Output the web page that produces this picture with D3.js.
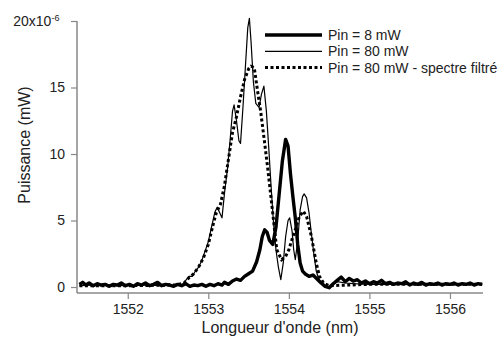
<!DOCTYPE html>
<html>
<head>
<meta charset="utf-8">
<script src="https://cdn.jsdelivr.net/npm/d3@7"></script>
<style>
  body { margin: 0; background: #fff; }
  svg { display: block; }
  text { font-family: "Liberation Sans", sans-serif; fill: #222; }
</style>
</head>
<body>
<svg id="chart" width="504" height="338"></svg>
<script>
// wavelength (nm) / power (x1e-6 mW)
let wl8 = [1551.40, 1551.44, 1551.48, 1551.52, 1551.57, 1551.62, 1551.67, 1551.72, 1551.77, 1551.82,
  1551.87, 1551.92, 1551.97, 1552.02, 1552.07, 1552.12, 1552.17, 1552.22, 1552.27, 1552.32,
  1552.37, 1552.42, 1552.47, 1552.52, 1552.57, 1552.62, 1552.67, 1552.72, 1552.77, 1552.82,
  1552.87, 1552.92, 1552.97, 1553.02, 1553.07, 1553.12, 1553.17, 1553.20,
  1553.25, 1553.30, 1553.35, 1553.40, 1553.45, 1553.50, 1553.55, 1553.60, 1553.64, 1553.67,
  1553.70, 1553.73, 1553.76, 1553.80, 1553.84, 1553.88, 1553.92, 1553.96, 1553.99, 1554.02,
  1554.05, 1554.08, 1554.11, 1554.14, 1554.17, 1554.20, 1554.25, 1554.30, 1554.35, 1554.40,
  1554.45, 1554.50, 1554.55, 1554.60, 1554.65, 1554.70, 1554.75, 1554.80, 1554.85, 1554.90,
  1554.95, 1555.00, 1555.05, 1555.10, 1555.15, 1555.20, 1555.25, 1555.30, 1555.35, 1555.40,
  1555.45, 1555.50, 1555.55, 1555.60, 1555.65, 1555.70, 1555.75, 1555.80, 1555.85, 1555.90,
  1555.95, 1556.00, 1556.05, 1556.10, 1556.15, 1556.20, 1556.25, 1556.30, 1556.35, 1556.40];
let p8 = [0.2, 0.35, 0.15, 0.3, 0.1, 0.25, 0.15, 0.2, 0.05, 0.2,
  0.15, 0.3, 0.1, 0.2, 0.05, 0.25, 0.15, 0.3, 0.1, 0.2,
  0.35, 0.1, 0.2, 0.15, 0.05, 0.2, 0.1, 0.25, 0.05, 0.15,
  0.1, 0.2, 0.05, 0.2, 0.1, 0.25, 0.15, 0.35,
  0.2, 0.45, 0.6, 0.5, 0.8, 1.0, 1.2, 1.9, 2.8, 3.8,
  4.3, 4.1, 3.5, 3.2, 4.5, 7.0, 9.5, 11.1, 10.6, 8.5,
  6.8, 5.2, 3.2, 1.8, 1.2, 1.0, 0.8, 0.9, 0.6, 0.3,
  0.05, -0.05, 0.25, 0.5, 0.75, 0.4, 0.65, 0.45, 0.55, 0.3,
  0.45, 0.25, 0.4, 0.3, 0.5, 0.25, 0.35, 0.2, 0.3, 0.25,
  0.4, 0.15, 0.3, 0.2, 0.35, 0.15, 0.25, 0.2, 0.3, 0.15,
  0.25, 0.2, 0.3, 0.15, 0.25, 0.2, 0.3, 0.15, 0.25, 0.2];

let wl80 = [1551.40, 1551.60, 1551.80, 1552.00, 1552.20, 1552.40, 1552.60, 1552.68, 1552.72, 1552.76,
  1552.80, 1552.84, 1552.88, 1552.92, 1552.96, 1553.00, 1553.04, 1553.08, 1553.11, 1553.14,
  1553.17, 1553.20, 1553.24, 1553.27, 1553.30, 1553.32, 1553.35, 1553.38, 1553.40, 1553.43,
  1553.46, 1553.49, 1553.51, 1553.53, 1553.56, 1553.59, 1553.63, 1553.66, 1553.69, 1553.72,
  1553.75, 1553.78, 1553.81, 1553.84, 1553.87, 1553.90, 1553.93, 1553.96, 1553.99, 1554.01,
  1554.04, 1554.06, 1554.08, 1554.11, 1554.14, 1554.17, 1554.19, 1554.22, 1554.25, 1554.28,
  1554.31, 1554.34, 1554.37, 1554.42, 1554.50, 1554.60, 1554.70, 1554.80, 1555.00, 1555.40,
  1555.80, 1556.40];
let p80 = [0.1, 0.15, 0.1, 0.1, 0.15, 0.1, 0.15, 0.2, 0.5, 0.8,
  0.8, 1.2, 1.5, 2.0, 2.7, 3.4, 4.5, 5.6, 6.0, 5.6,
  5.2, 7.0, 9.0, 11.0, 13.2, 13.7, 12.5, 11.0, 10.8, 13.5,
  16.5, 19.5, 20.2, 18.5, 15.4, 13.8, 13.5, 14.5, 15.1, 13.3,
  10.5, 7.5, 4.8, 2.8, 1.5, 0.55, 1.8, 3.8, 5.0, 5.2,
  4.2, 2.8, 2.05, 3.5, 5.8, 6.8, 7.0, 6.7, 5.6, 4.0,
  2.5, 1.2, 0.6, 0.2, 0.0, 0.4, 0.3, 0.25, 0.2, 0.2,
  0.15, 0.2];

let wlF = [1551.40, 1552.00, 1552.60, 1552.70, 1552.76, 1552.82, 1552.88, 1552.94, 1553.00, 1553.06,
  1553.10, 1553.15, 1553.20, 1553.25, 1553.30, 1553.35, 1553.40, 1553.45, 1553.50, 1553.53,
  1553.57, 1553.61, 1553.65, 1553.70, 1553.74, 1553.79, 1553.85, 1553.91, 1553.96, 1554.00,
  1554.04, 1554.08, 1554.13, 1554.18, 1554.22, 1554.28, 1554.34, 1554.38, 1554.43, 1554.50,
  1555.00, 1556.40];
let pF = [0.1, 0.1, 0.15, 0.3, 0.7, 1.0, 1.5, 2.2, 3.2, 4.7,
  5.6, 6.2, 7.6, 9.6, 11.6, 12.8, 14.3, 15.6, 16.4, 16.6,
  16.5, 14.8, 13.2, 10.8, 8.8, 6.1, 2.8, 2.05, 2.3, 2.8,
  3.6, 4.3, 5.3, 5.7, 5.3, 3.8, 1.8, 0.8, 0.3, 0.1,
  0.2, 0.2];

let xTicks = [1552, 1553, 1554, 1555, 1556];
let yTicks = [0, 5, 10, 15, 20];
let legendNames = ["Pin = 8 mW", "Pin = 80 mW", "Pin = 80 mW - spectre filtré"];

let svg = d3.select("#chart");

let x = d3.scaleLinear().domain([1551.37, 1556.41]).range([77, 483]);
let y = d3.scaleLinear().domain([-0.45, 20]).range([293, 21]);

let axisColor = "#888";

// axes
let gx = svg.append("g")
  .attr("transform", "translate(0,293)")
  .call(d3.axisBottom(x).tickValues(xTicks).tickSize(6).tickPadding(5).tickFormat(d3.format("d")));
let gy = svg.append("g")
  .attr("transform", "translate(77,0)")
  .call(d3.axisLeft(y).tickValues(yTicks).tickSize(6).tickPadding(6));

[gx, gy].forEach(function(g) {
  g.select(".domain").attr("stroke", axisColor).attr("stroke-width", 1.5);
  g.selectAll(".tick line").attr("stroke", axisColor).attr("stroke-width", 1.2);
  g.selectAll(".tick text")
    .style("font-family", "Liberation Sans, sans-serif")
    .style("font-size", "14px")
    .attr("fill", "#222");
});
gx.select(".domain").attr("d", "M77,0H483");
gy.select(".domain").attr("d", "M0,21V293");

// the 20 label carries the exponent
gy.selectAll(".tick text")
  .filter(function(d) { return d === 20; })
  .text("20x10")
  .attr("dx", "-0.4em")
  .append("tspan")
  .attr("dy", "-0.5em")
  .style("font-size", "9px")
  .text("-6");

// series
function makeLine(wl) {
  return d3.line()
    .x(function(d, i) { return x(wl[i]); })
    .y(function(d) { return y(d); })
    .curve(d3.curveLinear);
}

svg.append("path")
  .attr("d", makeLine(wlF)(pF))
  .style("fill", "none")
  .style("stroke", "#000")
  .style("stroke-width", 3)
  .style("stroke-dasharray", "3,2.5");

svg.append("path")
  .attr("d", makeLine(wl80)(p80))
  .style("fill", "none")
  .style("stroke", "#000")
  .style("stroke-width", 1.2)
  .style("stroke-linejoin", "round");

svg.append("path")
  .attr("d", makeLine(wl8)(p8))
  .style("fill", "none")
  .style("stroke", "#000")
  .style("stroke-width", 3.4)
  .style("stroke-linejoin", "round");

// axis titles
svg.append("text")
  .attr("x", 280)
  .attr("y", 333)
  .attr("text-anchor", "middle")
  .style("font-size", "16px")
  .text("Longueur d'onde (nm)");

svg.append("text")
  .attr("transform", "translate(30,145) rotate(-90)")
  .attr("text-anchor", "middle")
  .style("font-size", "16px")
  .text("Puissance (mW)");

// legend
let legendStyles = [
  { w: 3.4, dash: null },
  { w: 1.2, dash: null },
  { w: 3, dash: "3,2.5" }
];
let legend = svg.append("g");
legend.selectAll("line")
  .data(legendNames)
  .enter()
  .append("line")
  .attr("x1", 265)
  .attr("x2", 322)
  .attr("y1", function(d, i) { return 35 + i * 16.3; })
  .attr("y2", function(d, i) { return 35 + i * 16.3; })
  .style("stroke", "#000")
  .style("stroke-width", function(d, i) { return legendStyles[i].w; })
  .style("stroke-dasharray", function(d, i) { return legendStyles[i].dash; });
legend.selectAll("text")
  .data(legendNames)
  .enter()
  .append("text")
  .attr("x", 328)
  .attr("y", function(d, i) { return 35 + i * 16.3; })
  .attr("dy", "0.35em")
  .style("font-size", "14px")
  .text(function(d) { return d; });
</script>
</body>
</html>
